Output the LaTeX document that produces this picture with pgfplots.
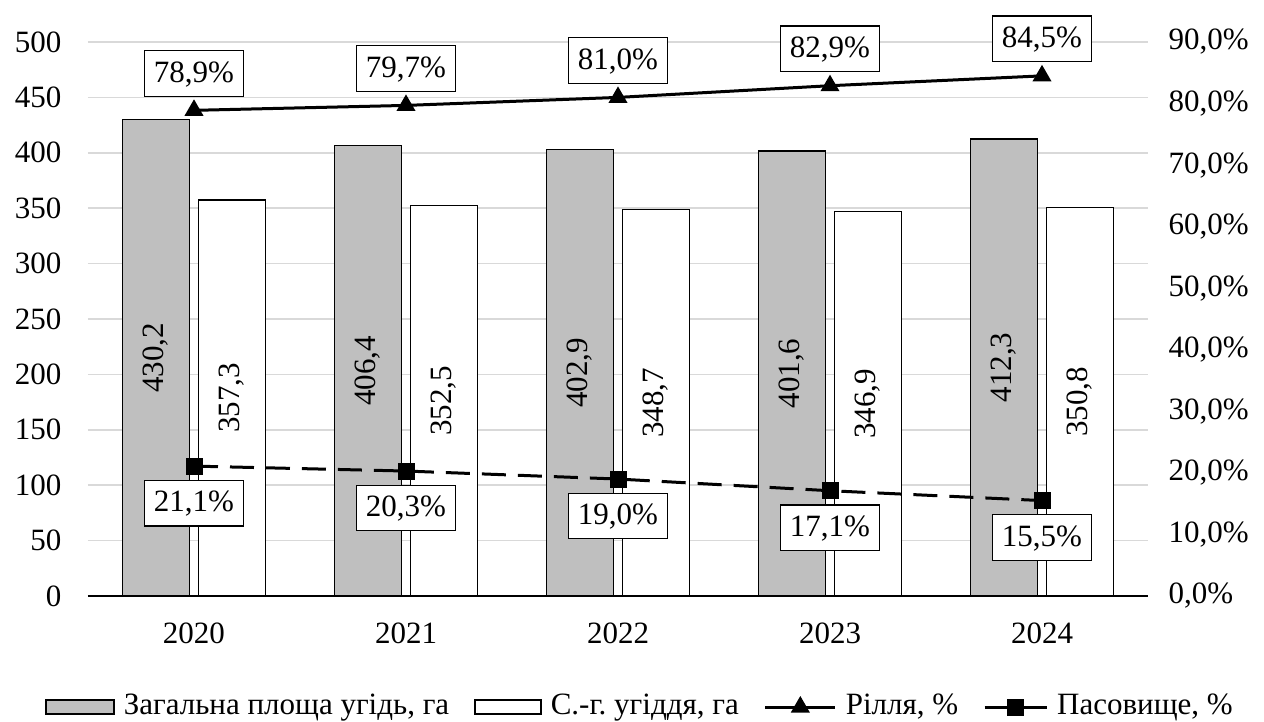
\documentclass[border=0pt]{standalone}
\usepackage{fontspec}
\setmainfont{Liberation Serif}
\setsansfont{Liberation Serif}
\usepackage{pgfplots}
\usepackage{pgfplotstable}
\pgfplotsset{compat=1.18}
\definecolor{barg}{HTML}{BFBFBF}
\definecolor{gridg}{HTML}{D9D9D9}
\newcommand\chartfont{\rmfamily\fontsize{15.5}{18.6}\selectfont}
\pgfplotsset{
  graylegend/.style={legend image code/.code={\draw[fill=barg,draw=black,line width=0.75pt] (0pt,-3.4pt) rectangle (34pt,3.4pt);}},
  whitelegend/.style={legend image code/.code={\draw[fill=white,draw=black,line width=0.75pt] (0pt,-3.4pt) rectangle (33pt,3.4pt);}},
  linelegendA/.style={legend image code/.code={\draw[mark repeat=2,mark phase=2,##1,solid] plot coordinates {(0pt,0pt) (17.5pt,0pt) (35pt,0pt)};}},
  linelegendB/.style={legend image code/.code={\draw[mark repeat=2,mark phase=2,##1,solid] plot coordinates {(0pt,0pt) (15.5pt,0pt) (31pt,0pt)};}},
}
\tikzset{
  pctbox/.style={draw=black, fill=white, line width=0.6pt, inner xsep=4.8pt, inner ysep=5.2pt, text height=0.68em, text depth=0.12em, font=\chartfont, anchor=center},
}
\pgfplotstableread{
x gray white ril pas
0 430.2 357.3 78.9 21.1
1 406.4 352.5 79.7 20.3
2 402.9 348.7 81.0 19.0
3 401.6 346.9 82.9 17.1
4 412.3 350.8 84.5 15.5
}\datatable
\begin{document}
\frenchspacing
\chartfont
\begin{tikzpicture}
\begin{axis}[
  scale only axis, width=530pt, height=277pt,
  xmin=-0.5, xmax=4.5, ymin=0, ymax=500,
  xtick={0,1,2,3,4}, xticklabels={2020,2021,2022,2023,2024},
  ytick={0,50,...,500},
  axis x line*=bottom, axis y line*=left,
  x axis line style={-, black, line width=0.75pt},
  y axis line style={draw=none},
  major tick style={draw=none},
  ymajorgrids, grid style={gridg, line width=0.75pt},
  /pgf/number format/assume math mode=true,
  /pgf/number format/use comma,
  tick label style={font=\chartfont},
  yticklabel style={xshift=-8pt},
  xticklabel style={yshift=-8pt},
]
\addplot[ybar, bar width=33.5pt, bar shift=-19pt, fill=barg, draw=black, line width=0.75pt] table[x=x,y=gray]{\datatable};
\addplot[ybar, bar width=33.5pt, bar shift=19pt, fill=white, draw=black, line width=0.75pt] table[x=x,y=white]{\datatable};
\addplot[draw=none, mark=none, forget plot, nodes near coords={\pgfmathprintnumber[fixed,fixed zerofill,precision=1,use comma,assume math mode=true]{\pgfplotspointmeta}}, point meta=explicit,
  nodes near coords style={rotate=90, anchor=center, font=\chartfont}] table[x expr=\thisrow{x}-0.17925, y expr=\thisrow{gray}/2, meta=gray]{\datatable};
\addplot[draw=none, mark=none, forget plot, nodes near coords={\pgfmathprintnumber[fixed,fixed zerofill,precision=1,use comma,assume math mode=true]{\pgfplotspointmeta}}, point meta=explicit,
  nodes near coords style={rotate=90, anchor=center, font=\chartfont}] table[x expr=\thisrow{x}+0.17925, y expr=\thisrow{white}/2, meta=white]{\datatable};
\end{axis}
\begin{axis}[
  scale only axis, width=530pt, height=277pt,
  xmin=-0.5, xmax=4.5, ymin=0, ymax=90,
  axis x line=none, axis y line*=right,
  y axis line style={draw=none},
  major tick style={draw=none},
  ytick={0,10,...,90},
  yticklabel={\pgfmathprintnumber[fixed,fixed zerofill,precision=1,use comma,assume math mode=true]{\tick}\%},
  tick label style={font=\chartfont},
  yticklabel style={xshift=5pt},
  legend style={at={(-0.0406,-0.2004)}, anchor=west, draw=none, fill=none, font=\chartfont, legend columns=4,
    inner sep=0pt, nodes={inner sep=0pt},
    /tikz/every odd column/.append style={column sep=4.5pt},
    /tikz/every even column/.append style={column sep=12.5pt}},
  legend cell align=left,
]
\addlegendimage{graylegend}
\addlegendentry{Загальна площа угідь, га}
\addlegendimage{whitelegend}
\addlegendentry{С.-г. угіддя, га}
\addplot[black, line width=1.5pt, mark=triangle*, mark size=4pt, mark options={solid}, linelegendA,
  nodes near coords={\pgfmathprintnumber[fixed,fixed zerofill,precision=1,use comma,assume math mode=true]{\pgfplotspointmeta}\%}, point meta=explicit,
  nodes near coords style={pctbox, yshift=18.5pt}] table[x=x,y=ril,meta=ril]{\datatable};
\addlegendentry{Рілля, \%}
\addplot[black, line width=1.5pt, dash pattern=on 12pt off 6pt, mark=square*, mark size=3.5pt, mark options={solid}, linelegendB,
  nodes near coords={\pgfmathprintnumber[fixed,fixed zerofill,precision=1,use comma,assume math mode=true]{\pgfplotspointmeta}\%}, point meta=explicit,
  nodes near coords style={pctbox, yshift=-18.5pt}] table[x=x,y=pas,meta=pas]{\datatable};
\addlegendentry{Пасовище, \%}
\end{axis}
\pgfresetboundingbox
\useasboundingbox (-44pt,-63pt) rectangle (588pt,298pt);
\end{tikzpicture}
\end{document}
